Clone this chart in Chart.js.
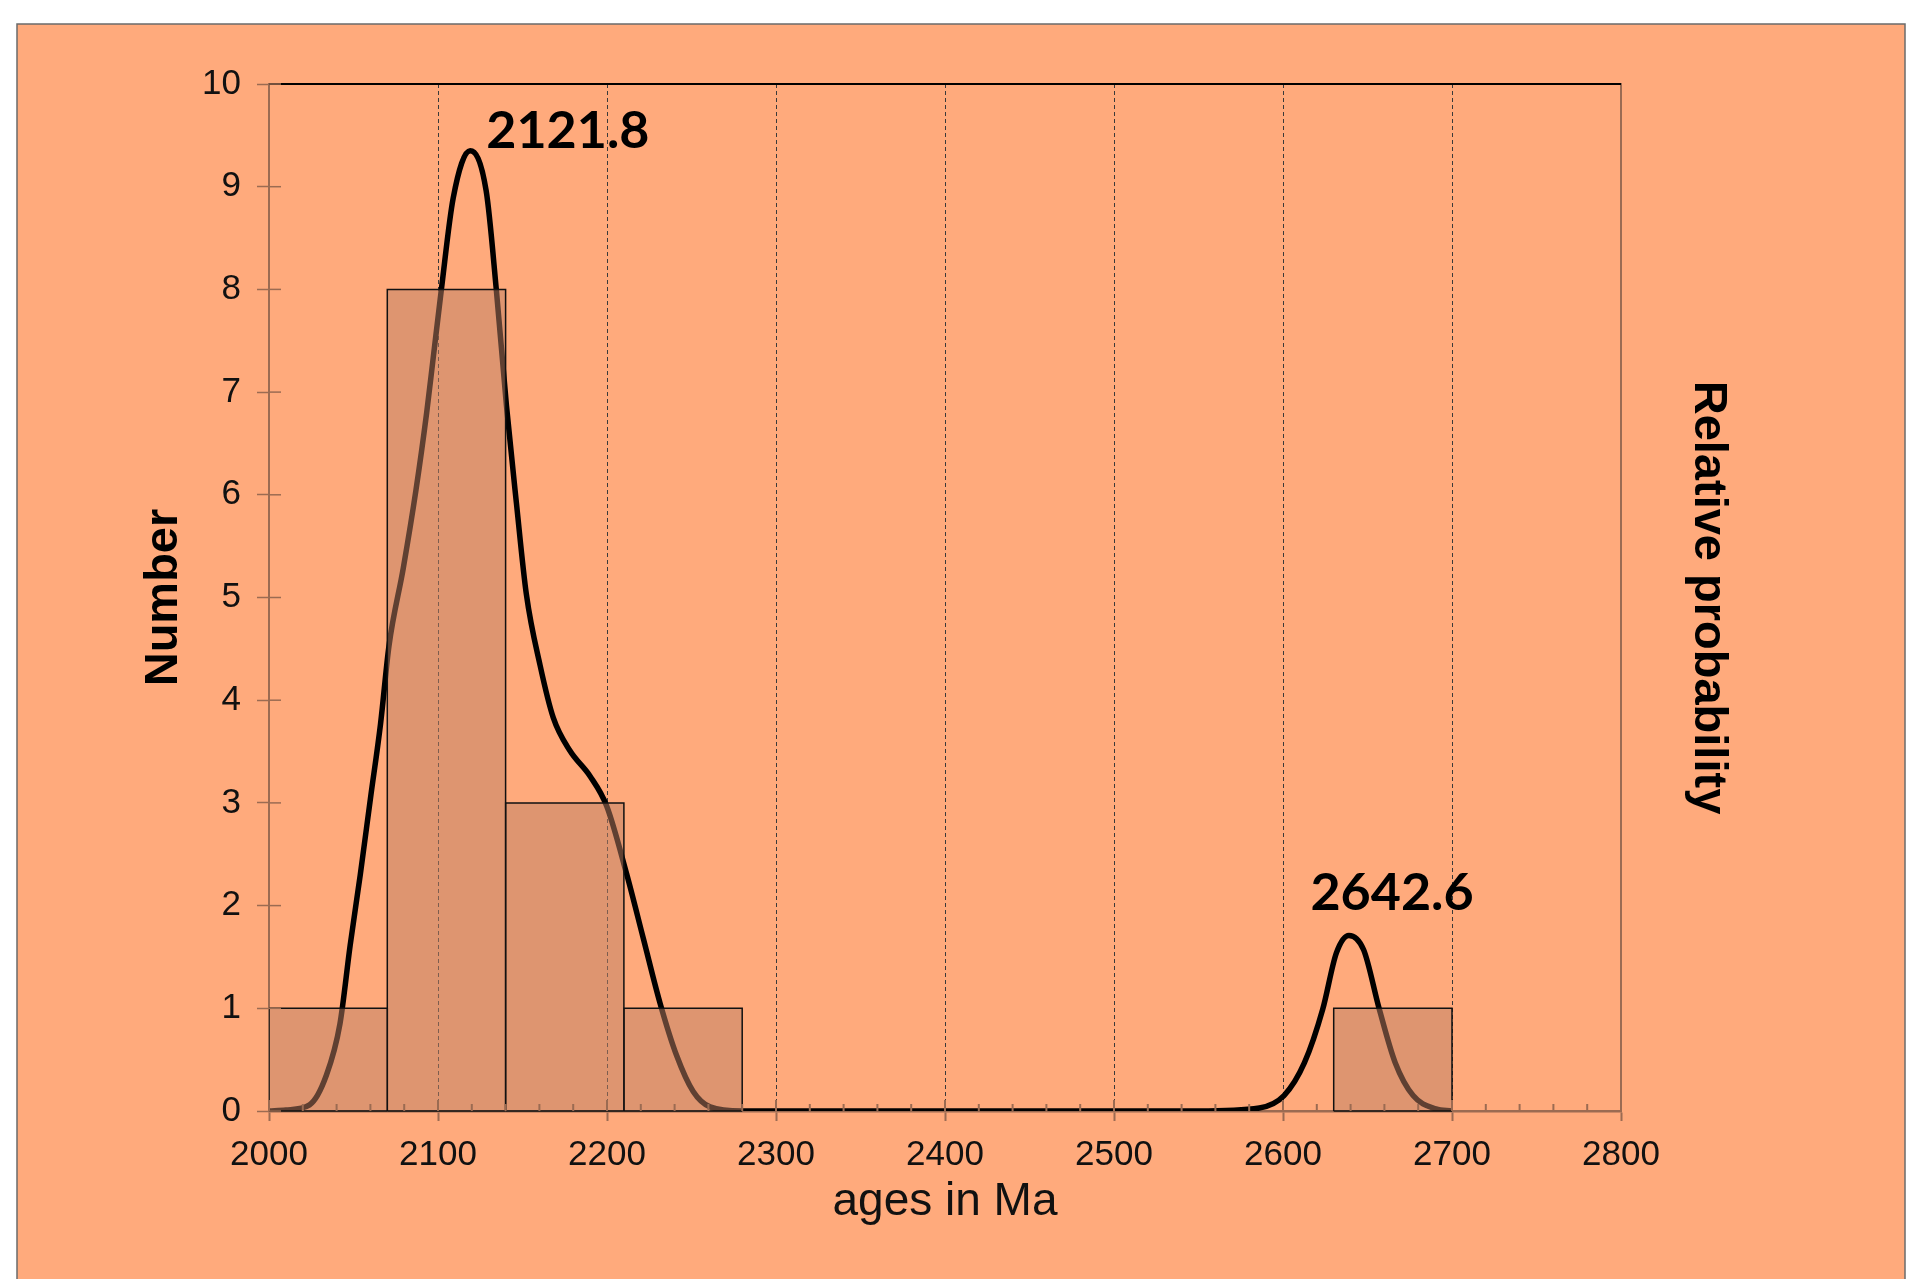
<!DOCTYPE html>
<html>
<head>
<meta charset="utf-8">
<title>Ages in Ma - histogram and probability curve</title>
<script src="https://cdn.jsdelivr.net/npm/chart.js@4.4.1/dist/chart.umd.min.js"></script>
<style>
  html, body { margin: 0; padding: 0; background: #fff; }
  canvas { display: block; }
</style>
</head>
<body>
<canvas id="ageChart" width="1908" height="1279"></canvas>
<script>
// histogram bins (Ma) and counts
const binStarts = [2000, 2070, 2140, 2210, 2630];
const binEnds = [2070, 2140, 2210, 2280, 2700];
const binCounts = [1, 8, 3, 1, 1];

// relative probability curve (scaled to the Number axis)
const curveAges = [2000, 2010, 2024, 2034, 2042, 2048, 2054, 2060, 2066, 2071, 2079.5, 2087, 2093.3, 2097, 2102,
  2109, 2119, 2128.5, 2134.5, 2140.5, 2146.4, 2152.3, 2160.4, 2168.2, 2178, 2190, 2199.8, 2211.6, 2221.5,
  2231.4, 2241.2, 2251, 2261, 2280, 2400, 2550, 2586, 2600.6, 2612.7, 2623.5, 2631.6, 2639, 2647.7, 2657,
  2666.4, 2677, 2690.5, 2700];
const curveValues = [0, 0.01, 0.06, 0.35, 0.85, 1.61, 2.3, 3.04, 3.77, 4.53, 5.29, 6.05, 6.8, 7.31, 8.0,
  8.89, 9.35, 8.96, 8.0, 6.87, 5.92, 5.03, 4.34, 3.83, 3.51, 3.26, 2.97, 2.31, 1.68,
  1.05, 0.54, 0.19, 0.04, 0, 0, 0, 0.03, 0.15, 0.47, 0.99, 1.54, 1.71, 1.57, 0.99,
  0.47, 0.15, 0.02, 0];

// peak ages written on the chart
const peakAges = [2121.8, 2642.6];

// axes
const xMin = 2000, xMax = 2800, xStep = 100, xMinorStep = 20;
const yMin = 0, yMax = 10, yStep = 1;

const panelColor = '#FFAA7C';
const axisColor = '#9B6B52';
const barFill = 'rgba(190, 128, 100, 0.5)';
const fontFamily = "'Liberation Sans', Arial, sans-serif";

const curveData = curveAges.map((a, i) => ({ x: a, y: curveValues[i] }));

const barSets = binStarts.map((x0, i) => ({
  label: 'bin ' + x0,
  data: [
    { x: x0, y: 0 }, { x: x0, y: binCounts[i] },
    { x: binEnds[i], y: binCounts[i] }, { x: binEnds[i], y: 0 }
  ],
  borderColor: '#111',
  borderWidth: 1.5,
  backgroundColor: barFill,
  fill: 'origin',
  tension: 0,
  pointRadius: 0,
  order: 0
}));

const curveSet = {
  label: 'Relative probability',
  data: curveData,
  borderColor: '#000',
  borderWidth: 5.5,
  cubicInterpolationMode: 'monotone',
  fill: false,
  pointRadius: 0,
  order: 1
};

// orange panel behind everything
const panelPlugin = {
  id: 'panel',
  beforeDraw(chart) {
    const ctx = chart.ctx;
    ctx.save();
    ctx.fillStyle = '#fff';
    ctx.fillRect(0, 0, chart.width, chart.height);
    ctx.fillStyle = panelColor;
    ctx.fillRect(17, 24, 1888, chart.height);
    ctx.strokeStyle = '#6b6b6b';
    ctx.lineWidth = 1.5;
    ctx.strokeRect(17, 24, 1888, chart.height + 10);
    ctx.restore();
  }
};

// bar bottoms, tick marks inside the plot, top frame and peak labels
const framePlugin = {
  id: 'frame',
  afterDatasetsDraw(chart) {
    const { ctx, chartArea: { left, right, top, bottom }, scales: { x, y } } = chart;
    ctx.save();
    ctx.strokeStyle = '#000';
    ctx.lineWidth = 2;
    ctx.beginPath();
    ctx.moveTo(left, top);
    ctx.lineTo(right, top);
    ctx.stroke();

    ctx.strokeStyle = '#111';
    ctx.lineWidth = 1.5;
    binStarts.forEach((x0, i) => {
      ctx.beginPath();
      ctx.moveTo(x.getPixelForValue(x0), y.getPixelForValue(0));
      ctx.lineTo(x.getPixelForValue(binEnds[i]), y.getPixelForValue(0));
      ctx.stroke();
    });

    ctx.strokeStyle = axisColor;
    ctx.lineWidth = 2;
    for (let v = xMin; v <= xMax; v += xMinorStep) {
      const px = x.getPixelForValue(v);
      const len = (v - xMin) % xStep === 0 ? 11 : 7;
      ctx.beginPath();
      ctx.moveTo(px, bottom);
      ctx.lineTo(px, bottom - len);
      ctx.stroke();
    }
    ctx.lineWidth = 1.5;
    for (let v = yMin; v <= yMax; v += yStep) {
      const py = y.getPixelForValue(v);
      ctx.beginPath();
      ctx.moveTo(left, py);
      ctx.lineTo(left + 12, py);
      ctx.stroke();
    }

    ctx.fillStyle = '#000';
    ctx.font = "bold 52px Lato, 'Open Sans', sans-serif";
    ctx.textAlign = 'center';
    ctx.textBaseline = 'middle';
    const offsets = [[93, -20], [37, -42]];
    peakAges.forEach((age, i) => {
      let h = 0;
      curveAges.forEach((a, j) => { if (Math.abs(a - age) < 20) h = Math.max(h, curveValues[j]); });
      const px = x.getPixelForValue(age) + offsets[i][0];
      const py = y.getPixelForValue(h) + offsets[i][1];
      ctx.fillText(age.toFixed(1), px, py);
    });
    ctx.restore();
  }
};

new Chart(document.getElementById('ageChart'), {
  type: 'line',
  data: { datasets: [...barSets, curveSet] },
  options: {
    responsive: false,
    animation: false,
    layout: { padding: { left: 136, right: 172, top: 84, bottom: 0 } },
    plugins: { legend: { display: false }, tooltip: { enabled: false } },
    scales: {
      x: {
        type: 'linear',
        min: xMin,
        max: xMax,
        afterFit: s => { s.height = 168; },
        ticks: {
          stepSize: xStep,
          padding: 13,
          color: '#111',
          font: { family: fontFamily, size: 35 },
          callback: v => String(v)
        },
        grid: {
          color: c => (c.tick && (c.tick.value === xMin || c.tick.value === xMax)) ? 'rgba(0,0,0,0)' : '#3a3a3a',
          lineWidth: 1,
          drawTicks: true,
          tickLength: 10,
          tickColor: axisColor,
          tickWidth: 2
        },
        border: { color: axisColor, width: 2.5, dash: [4, 3] },
        title: {
          display: true,
          text: 'ages in Ma',
          color: '#111',
          font: { family: fontFamily, size: 46, lineHeight: 1.2 },
          padding: { top: 0, bottom: 49 }
        }
      },
      y: {
        type: 'linear',
        position: 'left',
        min: yMin,
        max: yMax,
        afterFit: s => { s.width = 133; },
        ticks: { stepSize: yStep, padding: 16, color: '#111', font: { family: fontFamily, size: 35 } },
        grid: { drawOnChartArea: false, drawTicks: true, tickLength: 12, tickColor: axisColor, tickWidth: 1.5 },
        border: { color: axisColor, width: 2 },
        title: {
          display: true,
          text: 'Number',
          color: '#000',
          font: { family: fontFamily, size: 47, weight: 'bold', lineHeight: 1.2 },
          padding: 0
        }
      },
      y2: {
        type: 'linear',
        position: 'right',
        min: 0,
        max: 1,
        afterFit: s => { s.width = 115; },
        ticks: { display: false },
        grid: { display: false, drawTicks: false },
        border: { color: axisColor, width: 2 },
        title: {
          display: true,
          text: 'Relative probability',
          color: '#000',
          font: { family: fontFamily, size: 47, weight: 'bold', lineHeight: 1.2 },
          padding: 0
        }
      }
    }
  },
  plugins: [panelPlugin, framePlugin]
});
</script>
</body>
</html>
